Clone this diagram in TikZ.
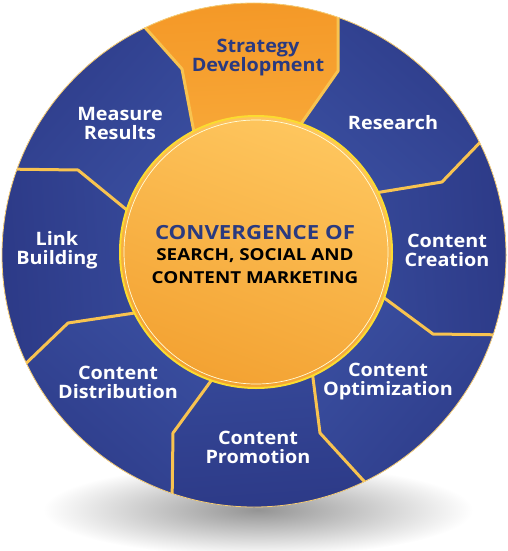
\documentclass[tikz,border=0pt]{standalone}
\usepackage{fontspec}
\setmainfont{Open Sans}[FakeStretch=1.07]
\newfontfamily\hubfont{Open Sans}[FakeStretch=1.14]
\usetikzlibrary{calc}

\definecolor{segblue}{HTML}{28337F}
\definecolor{segbluelt}{HTML}{3C52A4}
\definecolor{gold}{HTML}{F8C350}
\definecolor{orangedk}{HTML}{F2901E}
\definecolor{orangelt}{HTML}{FBB445}
\definecolor{hubtop}{HTML}{FEC65E}
\definecolor{hubbot}{HTML}{F3A232}
\definecolor{textblue}{HTML}{2A3A80}

\newcommand{\wedgepath}[2]{(O) -- (i#1) -- (k#1) -- (o#1) -- (f#1) -- (f#2) -- (o#2) -- (k#2) -- (i#2) -- cycle}

\tikzset{
  segtext/.style={text=white, font=\fontsize{18.5}{19}\selectfont\bfseries, align=center},
  hubtext/.style={font=\hubfont\fontsize{16.5}{16.5}\selectfont\bfseries},
  goldline/.style={gold, line width=3pt, line join=round},
}

\begin{document}
\begin{tikzpicture}[x=1pt,y=-1pt]
            \useasboundingbox (0,0) rectangle (508,551);
            \coordinate (O) at (254,255);
            \coordinate (I) at (256,252);
            % inner point, bend, outer point of each border
            \coordinate (i1) at (193,127); \coordinate (k1) at (182,69);  \coordinate (o1) at (133,14);
            \coordinate (i2) at (303,121); \coordinate (k2) at (338,71);  \coordinate (o2) at (338,0);
            \coordinate (i3) at (381,192); \coordinate (k3) at (442,182); \coordinate (o3) at (490,132);
            \coordinate (i4) at (387,300); \coordinate (k4) at (433,334); \coordinate (o4) at (510,335);
            \coordinate (i5) at (313,378); \coordinate (k5) at (320,433); \coordinate (o5) at (373,491);
            \coordinate (i6) at (208,385); \coordinate (k6) at (173,433); \coordinate (o6) at (172,507);
            \coordinate (i7) at (128,314); \coordinate (k7) at (68,323);  \coordinate (o7) at (17,372);
            \coordinate (i8) at (122,206); \coordinate (k8) at (78,170);  \coordinate (o8) at (1,169);
            \foreach \n in {1,...,8}
              \coordinate (f\n) at ($(O)!1.3!(o\n)$);

            % shadow
            \shade[inner color=black!42, outer color=white] (258,510) ellipse [x radius=215pt, y radius=46pt];

            % wheel
            \fill[segblue] (O) circle [radius=252pt];
            \begin{scope}
              \clip (O) circle [radius=252pt];
              \foreach \i/\j/\ang in {2/3/-41, 3/4/-86, 4/5/-131, 5/6/-176, 6/7/139, 7/8/94, 8/1/49}
                \shade[left color=segblue, right color=segbluelt, shading angle=\ang] \wedgepath{\i}{\j};
              \shade[left color=orangedk, right color=orangelt, shading angle=3] \wedgepath{1}{2};
              \foreach \n in {1,...,8}
                \draw[goldline] ($(k\n)!1.15!(i\n)$) -- (k\n) -- (o\n);
            \end{scope}
            \draw[gold!80!white, line width=0.8pt] (O) circle [radius=252pt];

            % hub
            \shade[top color=hubtop, bottom color=hubbot, shading angle=-20] (I) circle [radius=136pt];
            \draw[gold!60!yellow, line width=2pt] (I) circle [radius=136pt];
            \draw[white!85!yellow, line width=0.7pt] (I) circle [radius=132pt];

            % labels
            \node[segtext, text=textblue] (strategy) at (258,58) {Strategy\\Development};
            \node[segtext] (research) at (393,123) {Research};
            \node[segtext] (creation) at (447,250) {Content\\Creation};
            \node[segtext] (optimization) at (388,382) {Content\\Optimization};
            \node[segtext] (promotion) at (258,447) {Content\\Promotion};
            \node[segtext] (distribution) at (118,382) {Content\\Distribution};
            \node[segtext] (link) at (57,250) {Link\\Building};
            \node[segtext] (measure) at (120,123) {Measure\\Results};

            \node[hubtext, text=textblue, font=\hubfont\fontsize{19.5}{20}\selectfont\bfseries] (conv) at (255,233) {CONVERGENCE OF};
            \node[hubtext] (ssa) at (255,256) {SEARCH, SOCIAL AND};
            \node[hubtext] (cm) at (255,278) {CONTENT MARKETING};
        \end{tikzpicture}
\end{document}
